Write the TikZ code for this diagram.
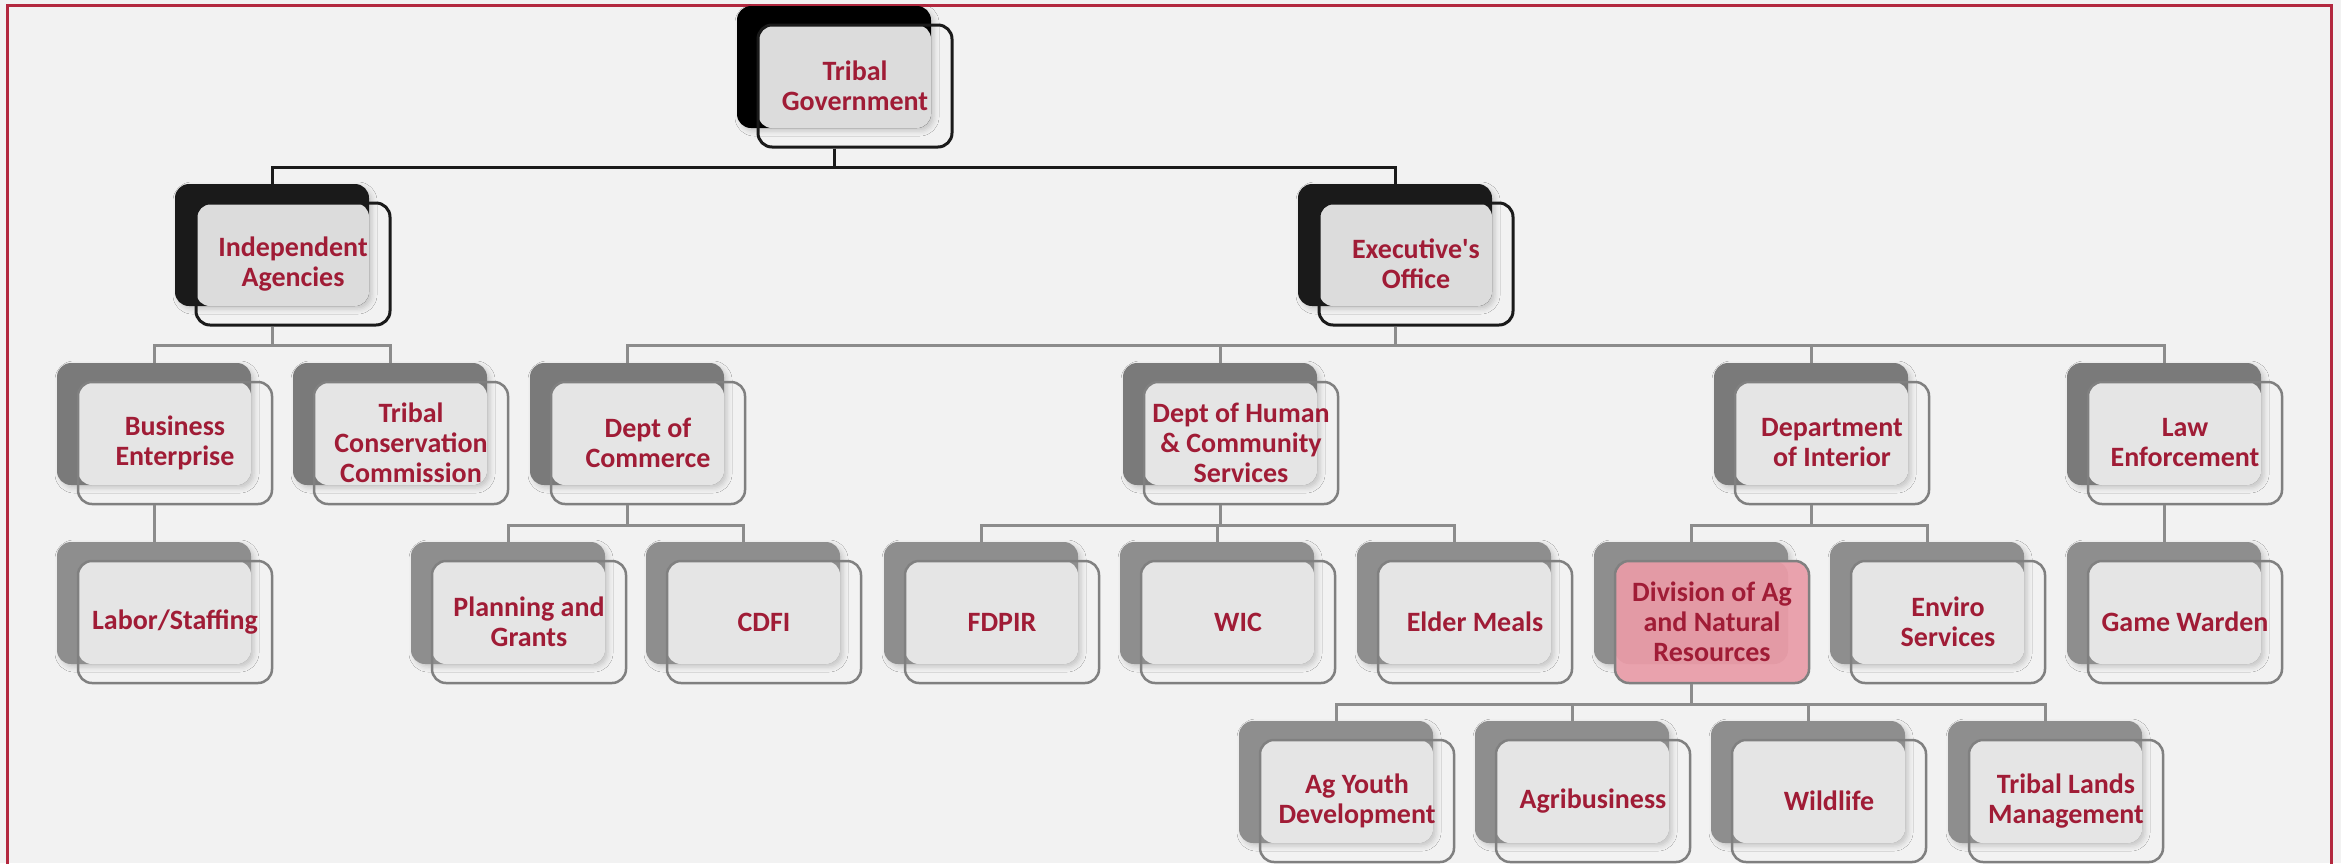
\documentclass[tikz,border=0pt]{standalone}
\usepackage{fontspec}
\setmainfont{Carlito}
\usetikzlibrary{shadows.blur}
\definecolor{bgcol}{HTML}{F2F2F2}
\definecolor{framecol}{HTML}{B3283F}
\definecolor{txtred}{HTML}{A01C36}
\definecolor{blackA}{HTML}{000000}
\definecolor{blackB}{HTML}{1A1A1A}
\definecolor{grayC}{HTML}{7A7A7A}
\definecolor{grayD}{HTML}{8E8E8E}
\definecolor{ovdark}{HTML}{DCDCDC}
\definecolor{ovlight}{HTML}{E5E5E5}
\definecolor{ovpink}{HTML}{E39AA5}
\definecolor{frpink}{HTML}{E9A2AD}
\definecolor{lineblack}{HTML}{1A1A1A}
\definecolor{linegray}{HTML}{808080}
\definecolor{conngray}{HTML}{8C8C8C}
\newcommand\orgfont{\fontsize{28}{30}\selectfont\bfseries}
\tikzset{
  backbox/.style={rounded corners=14pt, minimum width=194pt, minimum height=122pt, inner sep=0pt,
    blur shadow={shadow xshift=3pt, shadow yshift=-3pt, shadow blur radius=5pt, shadow opacity=18}},
  frontbox/.style={rounded corners=14pt, minimum width=194pt, minimum height=122pt, inner sep=0pt,
    align=center, font=\orgfont, text=txtred},
  backA/.style={fill=blackA}, backB/.style={fill=blackB}, backC/.style={fill=grayC},
  backD/.style={fill=grayD}, backP/.style={fill=grayD},
  ovA/.style={fill=ovdark}, ovB/.style={fill=ovdark}, ovC/.style={fill=ovlight},
  ovD/.style={fill=ovlight}, ovP/.style={fill=ovpink},
  ffA/.style={}, ffB/.style={}, ffC/.style={}, ffD/.style={}, ffP/.style={fill=frpink},
  frontA/.style={draw=lineblack, line width=3pt}, frontB/.style={draw=lineblack, line width=3pt},
  frontC/.style={draw=linegray, line width=2.5pt}, frontD/.style={draw=linegray, line width=2.5pt},
  frontP/.style={draw=linegray, line width=2.5pt},
  connblack/.style={draw=lineblack, line width=3pt},
  conngr/.style={draw=conngray, line width=3pt},
}
% #1 name, #2 x, #3 y (top-left of back box, px), #4 level, #5 text
\newcommand\orgbox[5]{%
  \node[backbox, back#4] (#1b) at ({#2+97},{#3+61}) {};
  \path[ff#4, rounded corners=14pt] ({#2+21},{#3+19}) rectangle ({#2+215},{#3+141});
  \path[ov#4, rounded corners=14pt] ({#2+21},{#3+19}) rectangle ({#2+194},{#3+122});
  \node[frontbox, front#4] (#1) at ({#2+118},{#3+80}) {#5};
}
\begin{document}
\begin{tikzpicture}[x=1pt, y=-1pt]
\useasboundingbox (0,0) rectangle (2341,863);
\fill[bgcol] (0,0) rectangle (2341,863);
\draw[framecol, line width=3pt] (7,920) -- (7,5) -- (2331,5) -- (2331,920);

\orgbox{tg}{737}{6}{A}{Tribal\\Government}
\orgbox{ia}{175}{184}{B}{Independent\\Agencies}
\orgbox{ex}{1298}{184}{B}{Executive\textquotesingle s\\Office}

\orgbox{be}{57}{363}{C}{Business\\Enterprise}
\orgbox{tcc}{293}{363}{C}{Tribal\\Conservation\\Commission}
\orgbox{dc}{530}{363}{C}{Dept of\\Commerce}
\orgbox{dh}{1123}{363}{C}{Dept of Human\\\& Community\\Services}
\orgbox{di}{1714}{363}{C}{Department\\of Interior}
\orgbox{le}{2067}{363}{C}{Law\\Enforcement}

\orgbox{ls}{57}{542}{D}{Labor/Staffing}
\orgbox{pg}{411}{542}{D}{Planning and\\Grants}
\orgbox{cdfi}{646}{542}{D}{CDFI}
\orgbox{fd}{884}{542}{D}{FDPIR}
\orgbox{wic}{1120}{542}{D}{WIC}
\orgbox{em}{1357}{542}{D}{Elder Meals}
\orgbox{da}{1594}{542}{P}{Division of Ag\\and Natural\\Resources}
\orgbox{es}{1830}{542}{D}{Enviro\\Services}
\orgbox{gw}{2067}{542}{D}{Game Warden}

\orgbox{ay}{1239}{721}{D}{Ag Youth\\Development}
\orgbox{ab}{1475}{721}{D}{Agribusiness}
\orgbox{wl}{1711}{721}{D}{Wildlife}
\orgbox{tl}{1948}{721}{D}{Tribal Lands\\Management}

% connectors
\foreach \c in {ia,ex}
  \draw[connblack] (tgb.south |- tg.south) -- ++(0,19) -| (\c b.north);
\foreach \c in {be,tcc}
  \draw[conngr] (iab.south |- ia.south) -- ++(0,19) -| (\c b.north);
\foreach \c in {dc,dh,di,le}
  \draw[conngr] (exb.south |- ex.south) -- ++(0,19) -| (\c b.north);
\draw[conngr] (beb.south |- be.south) -- (lsb.north);
\foreach \c in {pg,cdfi}
  \draw[conngr] (dcb.south |- dc.south) -- ++(0,20) -| (\c b.north);
\foreach \c in {fd,wic,em}
  \draw[conngr] (dhb.south |- dh.south) -- ++(0,20) -| (\c b.north);
\foreach \c in {da,es}
  \draw[conngr] (dib.south |- di.south) -- ++(0,20) -| (\c b.north);
\draw[conngr] (leb.south |- le.south) -- (gwb.north);
\foreach \c in {ay,ab,wl,tl}
  \draw[conngr] (dab.south |- da.south) -- ++(0,20) -| (\c b.north);
\end{tikzpicture}
\end{document}
